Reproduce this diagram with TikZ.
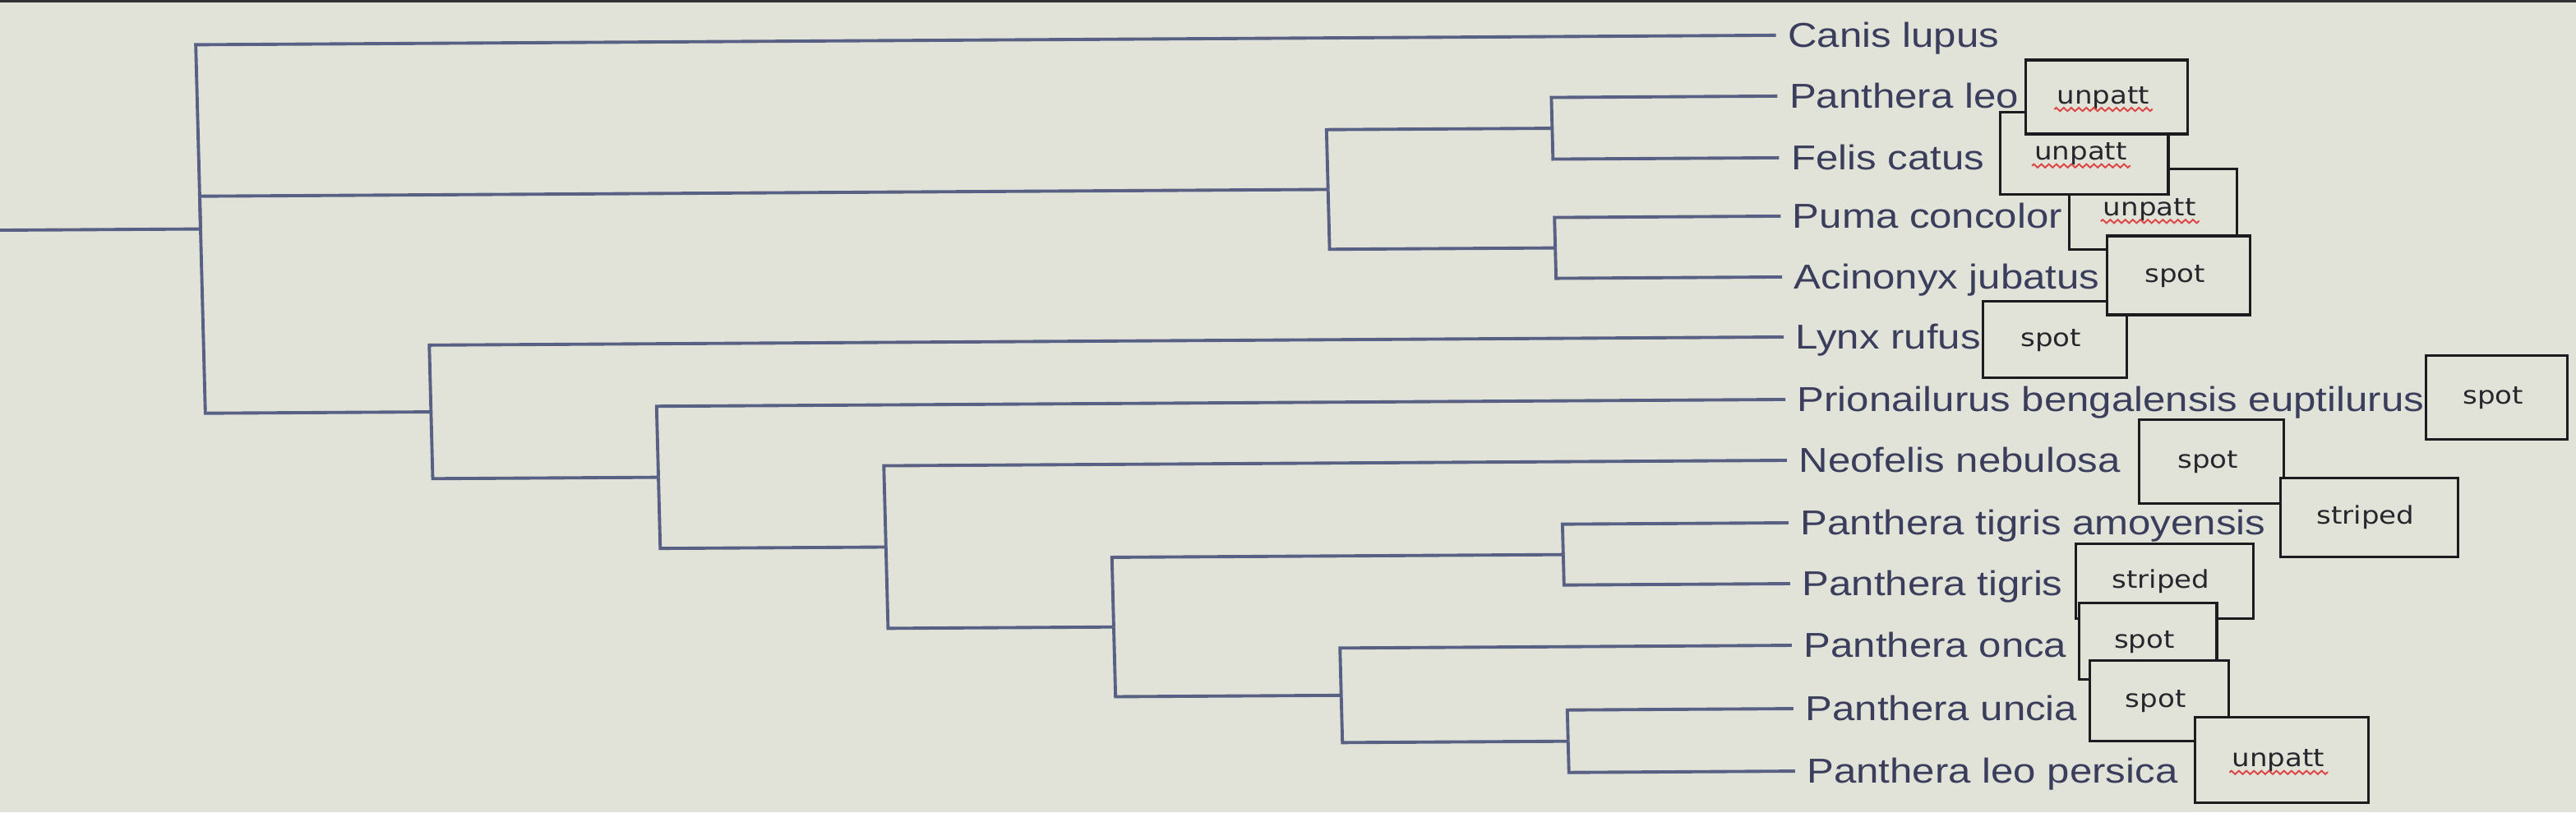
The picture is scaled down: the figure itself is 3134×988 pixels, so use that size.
\documentclass[tikz,border=0pt]{standalone}
\usepackage{fontspec}
\setmainfont{Liberation Sans}
\newfontfamily\leaffont[FakeStretch=1.17]{Liberation Sans}
\newfontfamily\tagfont[FakeStretch=1.14]{DejaVu Sans}
\usetikzlibrary{decorations.pathmorphing}
\definecolor{screenbg}{RGB}{226,227,216}
\definecolor{branchcol}{RGB}{88,97,132}
\definecolor{leafcol}{RGB}{58,62,92}
\definecolor{framecol}{RGB}{28,28,32}
\definecolor{tagcol}{RGB}{38,38,44}
\definecolor{squigcol}{RGB}{220,70,70}
\definecolor{bezel}{RGB}{50,50,52}
\newcommand{\tagbox}[6]{%
  \node[tagframe, minimum width=#4, minimum height=#5] (#1) at (#2,#3) {};
  \node[tagtext] (#1t) at ([xshift=-0.05cm]#1.center) {#6};}
\newcommand{\squig}[1]{%
  \draw[squiggle] ([shift={(-3,7)}]#1.base west) -- ([shift={(3,7)}]#1.base east);}
\begin{document}
\begin{tikzpicture}[x=0.01cm,y=-0.01cm,
  treeedge/.style={draw=branchcol, line width=1.1pt},
  leaflabel/.style={anchor=base west, inner sep=0pt, text=leafcol,
    font=\leaffont\fontsize{11.95pt}{14pt}\selectfont},
  tagframe/.style={draw=framecol, fill=screenbg, line width=0.9pt, inner sep=0pt},
  tagtext/.style={inner sep=0pt, text=tagcol,
    font=\tagfont\fontsize{8.5pt}{10pt}\selectfont, text height=0.24cm, text depth=0.08cm},
  squiggle/.style={draw=squigcol, line width=0.55pt, decorate,
    decoration={zigzag, segment length=2.6pt, amplitude=0.6pt}}]
\useasboundingbox (0,0) rectangle (3134,988);
\fill[screenbg] (0,0) rectangle (3134,988);
\fill[bezel] (0,0) rectangle (3134,3);
\clip (0,0) rectangle (3134,988);
\begin{scope}[cm={1,0.006,-0.026,1,(-0.13cm,-0.129cm)}]
% internal nodes
\coordinate (stemstart) at (-40,267.1);
\coordinate (root) at (250,267.1);
\coordinate (cladeA) at (1622.5,227.25);
\coordinate (leofel) at (1897,154.5);
\coordinate (pumaac) at (1897,300);
\coordinate (cladeB) at (524.5,491.2);
\coordinate (nprion) at (799,572.4);
\coordinate (nneo) at (1073.5,658.9);
\coordinate (npanth) at (1348,757.75);
\coordinate (ntigris) at (1897,673);
\coordinate (nonca) at (1622.5,842.5);
\coordinate (nuncia) at (1897,900);
% leaf ends
\coordinate (eCanis) at (2172,43);
\coordinate (eLeo) at (2172,117);
\coordinate (eFelis) at (2172,192);
\coordinate (ePuma) at (2172,263);
\coordinate (eAcin) at (2172,337);
\coordinate (eLynx) at (2172,410);
\coordinate (ePrion) at (2172,486);
\coordinate (eNeo) at (2172,560);
\coordinate (eAmoy) at (2172,636);
\coordinate (eTig) at (2172,710);
\coordinate (eOnca) at (2172,785);
\coordinate (eUncia) at (2172,862);
\coordinate (ePers) at (2172,938);
% edges
\draw[treeedge] (stemstart) -- (root);
\draw[treeedge] (root) |- (eCanis);
\draw[treeedge] (root) |- (cladeA);
\draw[treeedge] (root) |- (cladeB);
\draw[treeedge] (cladeA) |- (leofel);
\draw[treeedge] (cladeA) |- (pumaac);
\draw[treeedge] (leofel) |- (eLeo);
\draw[treeedge] (leofel) |- (eFelis);
\draw[treeedge] (pumaac) |- (ePuma);
\draw[treeedge] (pumaac) |- (eAcin);
\draw[treeedge] (cladeB) |- (eLynx);
\draw[treeedge] (cladeB) |- (nprion);
\draw[treeedge] (nprion) |- (ePrion);
\draw[treeedge] (nprion) |- (nneo);
\draw[treeedge] (nneo) |- (eNeo);
\draw[treeedge] (nneo) |- (npanth);
\draw[treeedge] (npanth) |- (ntigris);
\draw[treeedge] (npanth) |- (nonca);
\draw[treeedge] (ntigris) |- (eAmoy);
\draw[treeedge] (ntigris) |- (eTig);
\draw[treeedge] (nonca) |- (eOnca);
\draw[treeedge] (nonca) |- (nuncia);
\draw[treeedge] (nuncia) |- (eUncia);
\draw[treeedge] (nuncia) |- (ePers);
% leaf labels
\node[leaflabel] (lCanis) at (2186,58) {Canis lupus};
\node[leaflabel] (lLeo) at (2186,132) {Panthera leo};
\node[leaflabel] (lFelis) at (2186,207) {Felis catus};
\node[leaflabel] (lPuma) at (2186,278) {Puma concolor};
\node[leaflabel] (lAcin) at (2186,352) {Acinonyx jubatus};
\node[leaflabel] (lLynx) at (2186,425) {Lynx rufus};
\node[leaflabel] (lPrion) at (2186,501) {Prionailurus bengalensis euptilurus};
\node[leaflabel] (lNeo) at (2186,575) {Neofelis nebulosa};
\node[leaflabel] (lAmoy) at (2186,651) {Panthera tigris amoyensis};
\node[leaflabel] (lTig) at (2186,725) {Panthera tigris};
\node[leaflabel] (lOnca) at (2186,800) {Panthera onca};
\node[leaflabel] (lUncia) at (2186,877) {Panthera uncia};
\node[leaflabel] (lPers) at (2186,953) {Panthera leo persica};
% pattern tags
\tagbox{bPuma}{2626}{257}{2.04cm}{0.98cm}{unpatt}\squig{bPumat}
\tagbox{bLynx}{2502}{415}{1.75cm}{0.93cm}{spot}
\tagbox{bAcin}{2655}{338}{1.74cm}{0.96cm}{spot}
\tagbox{bFelis}{2544}{189}{2.04cm}{1.00cm}{unpatt}\squig{bFelist}
\tagbox{bLeo}{2573}{120.5}{1.97cm}{0.90cm}{unpatt}\squig{bLeot}
\tagbox{bPrion}{3038}{489}{1.72cm}{1.02cm}{spot}
\tagbox{bNeo}{2689}{565}{1.76cm}{1.02cm}{spot}
\tagbox{bAmoy}{2879}{634}{2.16cm}{0.96cm}{striped}
\tagbox{bTig}{2628}{710}{2.16cm}{0.91cm}{striped}
\tagbox{bOnca}{2606}{783}{1.67cm}{0.93cm}{spot}
\tagbox{bUncia}{2618}{855}{1.69cm}{0.98cm}{spot}
\tagbox{bPers}{2765}{928}{2.11cm}{1.04cm}{unpatt}\squig{bPerst}
\end{scope}
\end{tikzpicture}
\end{document}
